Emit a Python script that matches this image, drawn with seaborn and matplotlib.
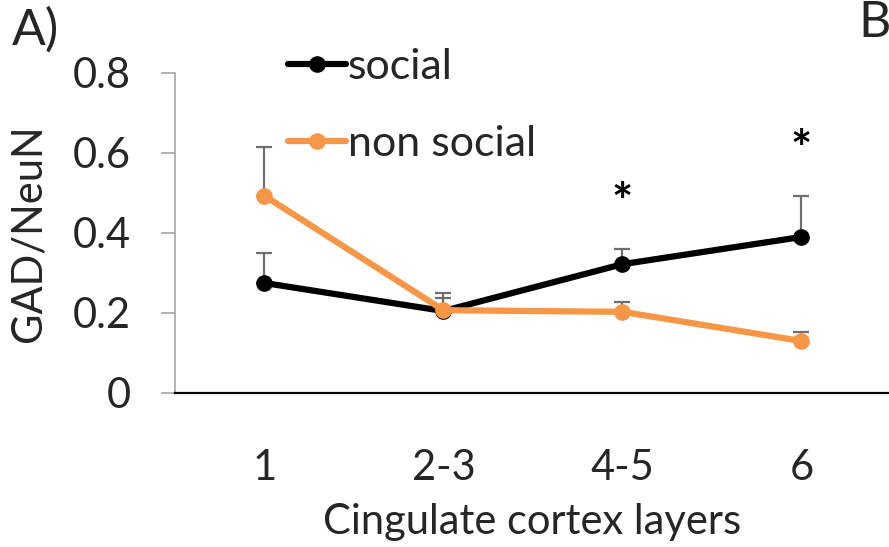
import matplotlib
matplotlib.use("Agg")
import matplotlib.pyplot as plt
import numpy as np
import pandas as pd
import seaborn as sns

# Layers of the cingulate cortex and the GAD/NeuN ratio per group
layers = ["1", "2-3", "4-5", "6"]
groups = ["social", "non social"]
social_mean = [0.275, 0.205, 0.322, 0.390]
social_sem = [0.075, 0.045, 0.038, 0.103]
nonsocial_mean = [0.493, 0.207, 0.203, 0.130]
nonsocial_sem = [0.123, 0.030, 0.025, 0.023]
significance = ["", "", "*", "*"]
yticks = [0, 0.2, 0.4, 0.6, 0.8]
ytick_labels = ["0", "0.2", "0.4", "0.6", "0.8"]

colors = {"social": "#000000", "non social": "#F79646"}

df = pd.DataFrame({
    "layer": layers * 2,
    "group": [groups[0]] * len(layers) + [groups[1]] * len(layers),
    "ratio": social_mean + nonsocial_mean,
})

sns.set_theme(style="white")
plt.rcParams["font.family"] = ["Lato", "DejaVu Sans"]

fig = plt.figure(figsize=(8.89, 5.47), dpi=100)
ax = fig.add_axes([175 / 889, 1 - 393 / 547, 1 - 175 / 889, (393 - 73) / 547])

# upward-only error bars, drawn underneath the lines
x = np.arange(len(layers))
for mean, sem in ((social_mean, social_sem), (nonsocial_mean, nonsocial_sem)):
    ax.errorbar(x, mean, yerr=[np.zeros(len(sem)), sem], fmt="none",
                ecolor="#6E6E6E", elinewidth=1.6, capsize=6, capthick=1.6,
                zorder=1)

sns.lineplot(data=df, x="layer", y="ratio", hue="group", hue_order=groups,
             palette=colors, marker="o", markersize=12, markeredgewidth=0,
             linewidth=4.5, sort=False, legend=False, ax=ax, zorder=3)

# significance markers above the social error bars
for i, mark in enumerate(significance):
    if mark:
        ax.text(i, social_mean[i] + social_sem[i] + 0.075, mark,
                ha="center", va="baseline", fontsize=36, fontweight="bold",
                color="black")

ax.set_xlim(-0.5, 3.49)
ax.set_ylim(0, 0.8)
ax.set_yticks(yticks)
ax.set_yticklabels(ytick_labels)
ax.set_xticks(x)
ax.set_xticklabels(layers)

ax.tick_params(axis="y", which="major", left=True, length=10, width=1.2,
               color="#A6A6A6", pad=22, labelsize=30)
ax.tick_params(axis="x", which="major", bottom=False, pad=34, labelsize=30)

for side in ("top", "right"):
    ax.spines[side].set_visible(False)
ax.spines["left"].set_color("#A6A6A6")
ax.spines["left"].set_linewidth(1.2)
ax.spines["bottom"].set_color("black")
ax.spines["bottom"].set_linewidth(1.6)
ax.spines["bottom"].set_zorder(4)

ax.set_xlabel("Cingulate cortex layers", fontsize=30, labelpad=12)
ax.set_ylabel("GAD/NeuN", fontsize=30, labelpad=18)

handles = ax.get_lines()
data_lines = [ln for ln in handles if len(ln.get_xdata()) == len(layers)
              and ln.get_marker() == "o"]
ax.legend(data_lines[:2], groups, loc="upper left",
          bbox_to_anchor=(91 / 714, 1.145), frameon=False, fontsize=31,
          handlelength=1.35, handletextpad=0.05, labelspacing=0.9,
          borderpad=0)

fig.text(12 / 889, 1 - 45 / 547, "A)", fontsize=36, ha="left", va="baseline")
fig.text(858 / 889, 1 - 37 / 547, "B", fontsize=36, ha="left", va="baseline")

fig.savefig("out.png", dpi=100)
